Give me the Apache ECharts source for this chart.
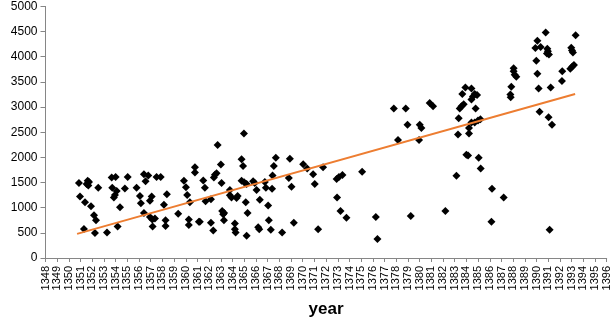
<!DOCTYPE html>
<html>
<head>
<meta charset="utf-8">
<script src="https://cdn.jsdelivr.net/npm/echarts@6/dist/echarts.min.js"></script>
<style>
html,body{margin:0;padding:0;background:#fff;}
#chart{width:616px;height:323px;}
</style>
</head>
<body>
<div id="chart"></div>
<script>
var years = [
	1350.86,1351.61,1351.72,1351.52,1351.66,1352.51,1350.95,1351.38,1351.89,1352.15,
	1352.32,1351.29,1352.23,1353.26,1353.66,1354.00,1355.03,1353.71,1354.09,1353.94,
	1353.85,1354.79,1354.37,1354.17,1356.42,1356.79,1356.56,1357.50,1357.85,1355.79,
	1356.08,1357.08,1356.93,1356.16,1358.38,1358.13,1356.42,1356.93,1357.13,1357.36,
	1357.16,1358.27,1358.27,1359.35,1359.84,1360.01,1360.12,1360.35,1360.26,1360.26,
	1360.78,1360.78,1361.12,
	1364.97,1362.72,1364.77,1367.70,1368.90,1364.90,1367.53,1363.00,1362.63,1362.49,
	1362.40,1361.49,1361.63,1363.06,1364.77,1364.99,1365.20,1365.76,1365.90,1366.05,
	1366.76,1366.85,1367.38,1367.42,1368.81,1369.04,1370.04,1370.38,1370.89,1371.74,
	1371.03,1363.77,1363.77,1363.91,1364.43,1364.34,1362.15,1361.69,1365.13,1366.33,
	1367.04,1363.11,1363.28,1363.20,1363.26,1365.28,1361.20,1362.15,1362.35,1364.20,
	1364.20,1364.26,1365.20,1366.19,1366.28,1367.10,1367.27,1368.24,1369.24,1371.32,
	1377.79,1378.81,1380.86,1381.15,1378.96,1380.01,1380.15,1378.15,1379.95,1372.90,
	1373.10,1373.40,1375.08,1372.94,1373.23,1373.74,1376.25,1376.39,1379.24,1382.20,
	1384.79,1383.34,1384.43,1384.71,1384.99,1385.20,1384.22,1383.28,1384.22,1390.26,
	1391.03,1391.32,1384.00,1384.14,1385.05,1385.22,1383.15,1386.19,1387.19,1386.14,
	1391.12,1383.77,1383.58,1383.43,
	1390.78,1393.34,1390.07,1389.90,1390.35,1390.92,1390.97,1390.89,1391.06,1392.97,
	1393.03,1393.11,1389.98,1390.07,1390.18,1391.21,1392.17,1392.20,1392.89,1393.06,
	1393.20,1388.04,1388.04,1388.13,1388.27,1387.84,1387.76,1387.79,1383.91,1384.43,
	1383.65,1384.71,1384.91,1384.56,1384.43
];
// value of each observation
var values = [
	1492,1537,1512,1473,1440,1396,1222,1107,1030,848,
	752,578,495,509,1600,1608,1608,1396,1330,1253,
	1203,1382,1010,625,1666,1639,1523,1608,1608,1396,
	1234,1222,1138,1087,1267,1060,895,817,765,785,
	625,752,636,881,1537,1407,1253,1107,765,656,
	1801,1697,721,
	2476,2244,1961,1993,1974,1826,1826,1858,1685,1652,
	1600,1542,1396,1492,1537,1504,1473,1523,1492,1350,
	1512,1396,1376,1639,1589,1415,1864,1781,1666,1801,
	1473,1350,1247,1203,1234,1190,1170,1126,1107,1157,
	1041,933,895,868,752,895,721,702,548,688,
	573,509,443,611,573,752,559,509,702,573,
	2969,2969,3079,3015,2649,2649,2584,2346,2346,1570,
	1610,1650,1716,1203,933,798,817,380,837,933,
	2969,2776,2693,2693,2732,2757,2584,2456,2476,2905,
	2796,2649,2051,2038,1993,1781,1633,1376,1203,721,
	559,3054,3015,2969,
	4480,4429,4319,4172,4191,4159,4107,4062,4043,4178,
	4126,4082,3922,3663,3368,3387,3517,3709,3760,3806,
	3837,3773,3709,3644,3600,3401,3247,3195,3387,3368,
	3258,3258,3239,3208,3150
];
// linear trend line end points
var trendYears = [1350.7, 1393.3];
var trendValues = [480, 3260];

var xMin = 1348, xMax = 1396;
var yMin = 0, yMax = 5000, yStep = 500;

function buildPairs(xs, ys){
	var out = [];
	for(var i = 0; i < xs.length; i++){
		out.push([xs[i], ys[i]]);
	}
	return out;
}

// plain numbers, no thousands separator
function plain(v){
	return String(v);
}

var axisGray = '#868686';
var font = 'Liberation Sans, Arial, sans-serif';

var myChart = echarts.init(document.getElementById('chart'));
var option = {
	animation: false,
	grid: {left: 45.5, right: 9.3, top: 6.4, bottom: 57.3},
	xAxis: {
		type: 'value',
		min: xMin,
		max: xMax,
		interval: 1,
		name: 'year',
		nameLocation: 'middle',
		nameGap: 43,
		nameTextStyle: {fontFamily: font, fontWeight: 'bold', fontSize: 17, color: '#000'},
		splitLine: {show: false},
		axisLine: {lineStyle: {color: axisGray}},
		axisTick: {length: 4, lineStyle: {color: axisGray}},
		axisLabel: {rotate: 90, margin: 8, fontFamily: font, fontSize: 11, color: '#000', formatter: plain}
	},
	yAxis: {
		type: 'value',
		min: yMin,
		max: yMax,
		interval: yStep,
		splitLine: {show: false},
		axisLine: {show: true, lineStyle: {color: axisGray}},
		axisTick: {show: true, length: 5, lineStyle: {color: axisGray}},
		axisLabel: {margin: 8, fontFamily: font, fontSize: 12, color: '#000', formatter: plain}
	},
	series: [
		{
			type: 'scatter',
			symbol: 'diamond',
			symbolSize: 8,
			itemStyle: {color: '#000', opacity: 1},
			data: buildPairs(years, values)
		},
		{
			type: 'line',
			symbol: 'none',
			lineStyle: {color: '#ED7D31', width: 2},
			data: buildPairs(trendYears, trendValues)
		}
	]
};
myChart.setOption(option);
</script>
</body>
</html>
